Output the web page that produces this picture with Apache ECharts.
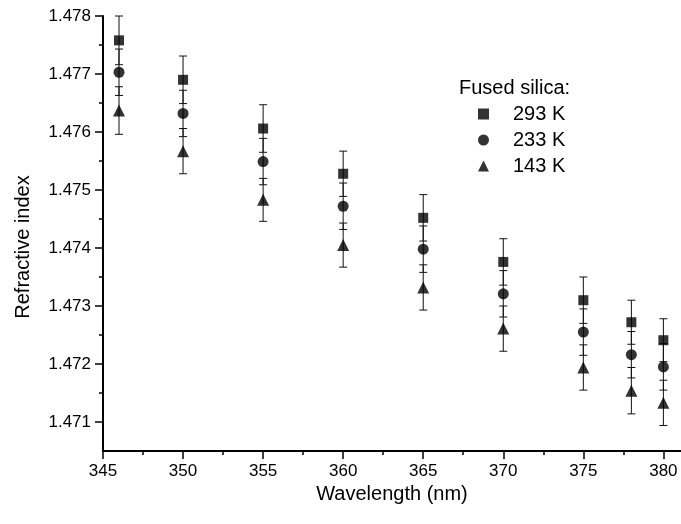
<!DOCTYPE html>
<html>
<head>
<meta charset="utf-8">
<script src="https://cdn.jsdelivr.net/npm/echarts@6/dist/echarts.min.js"></script>
<style>html,body{margin:0;padding:0;background:#fff}#c{width:681px;height:524px}</style>
</head>
<body>
<div id="c"></div>
<script>
var wavelengths = [346, 350, 355, 360, 365, 370, 375, 378, 380];
var n293 = [1.47758, 1.47690, 1.47606, 1.47528, 1.47452, 1.47376, 1.47310, 1.47272, 1.47241];
var n233 = [1.47703, 1.47632, 1.47549, 1.47472, 1.47398, 1.47321, 1.47255, 1.47216, 1.47195];
var n143 = [1.47637, 1.47567, 1.47483, 1.47405, 1.47332, 1.47261, 1.47194, 1.47154, 1.47133];
var err293 = [0.00042, 0.00041, 0.00041, 0.00039, 0.00040, 0.00040, 0.00040, 0.00038, 0.00037];
var err233 = [0.00040, 0.00040, 0.00040, 0.00040, 0.00040, 0.00040, 0.00040, 0.00040, 0.00040];
var err143 = [0.00041, 0.00039, 0.00037, 0.00038, 0.00039, 0.00039, 0.00039, 0.00040, 0.00039];
var seriesNames = ['293 K', '233 K', '143 K'];
var xMajor = [345, 350, 355, 360, 365, 370, 375, 380];
var xMinor = [347.5, 352.5, 357.5, 362.5, 367.5, 372.5, 377.5];
var yMajor = [1.471, 1.472, 1.473, 1.474, 1.475, 1.476, 1.477, 1.478];
var yMinor = [1.4715, 1.4725, 1.4735, 1.4745, 1.4755, 1.4765, 1.4775];

var FONT = '"Liberation Sans", Arial, sans-serif';
var chart = echarts.init(document.getElementById('c'));

function pts(vals, errs) {
  return wavelengths.map(function (w, i) { return [w, vals[i], errs[i]]; });
}
function errSeries(vals, errs) {
  return {
    type: 'custom',
    silent: true,
    z: 1,
    data: pts(vals, errs),
    renderItem: function (params, api) {
      var x = api.value(0), y = api.value(1), e = api.value(2);
      var top = api.coord([x, y + e]);
      var bot = api.coord([x, y - e]);
      var hw = 4;
      var st = { stroke: '#111', lineWidth: 1 };
      return {
        type: 'group',
        children: [
          { type: 'line', shape: { x1: top[0], y1: top[1], x2: bot[0], y2: bot[1] }, style: st },
          { type: 'line', shape: { x1: top[0] - hw, y1: top[1], x2: top[0] + hw, y2: top[1] }, style: st },
          { type: 'line', shape: { x1: bot[0] - hw, y1: bot[1], x2: bot[0] + hw, y2: bot[1] }, style: st }
        ]
      };
    }
  };
}
function scat(name, vals, sym, size) {
  return {
    name: name, type: 'scatter', symbol: sym, symbolSize: size, z: 3,
    itemStyle: { color: '#000' },
    data: wavelengths.map(function (w, i) { return [w, vals[i]]; })
  };
}

var xBase = {
  type: 'value', min: 345, max: 381.1, position: 'bottom', gridIndex: 0,
  splitLine: { show: false }
};
var yBase = {
  type: 'value', min: 1.4705, max: 1.478, position: 'left', gridIndex: 0,
  splitLine: { show: false }
};

chart.setOption({
  animation: false,
  backgroundColor: '#fff',
  grid: { left: 103, right: 0, top: 16, bottom: 73, containLabel: false },
  xAxis: [
    Object.assign({}, xBase, {
      name: 'Wavelength (nm)', nameLocation: 'middle', nameGap: 33,
      nameTextStyle: { fontFamily: FONT, fontSize: 20, color: '#000' },
      axisLine: { lineStyle: { color: '#000', width: 2 } },
      axisTick: { show: true, inside: false, length: 8, customValues: xMajor, lineStyle: { color: '#000', width: 1.5 } },
      axisLabel: { customValues: xMajor, margin: 12, fontFamily: FONT, fontSize: 17, color: '#000' }
    }),
    Object.assign({}, xBase, {
      axisLine: { show: false },
      axisTick: { show: true, inside: false, length: 4, customValues: xMinor, lineStyle: { color: '#000', width: 1.5 } },
      axisLabel: { show: false }
    })
  ],
  yAxis: [
    Object.assign({}, yBase, {
      name: 'Refractive index', nameLocation: 'middle', nameGap: 70,
      nameTextStyle: { fontFamily: FONT, fontSize: 20, color: '#000', padding: [0, 27, 0, 0] },
      axisLine: { lineStyle: { color: '#000', width: 2 } },
      axisTick: { show: true, inside: false, length: 8, customValues: yMajor, lineStyle: { color: '#000', width: 1.5 } },
      axisLabel: {
        customValues: yMajor, margin: 12, fontFamily: FONT, fontSize: 17, color: '#000',
        formatter: function (v) { return v.toFixed(3); }
      }
    }),
    Object.assign({}, yBase, {
      axisLine: { show: false },
      axisTick: { show: true, inside: false, length: 4, customValues: yMinor, lineStyle: { color: '#000', width: 1.5 } },
      axisLabel: { show: false }
    })
  ],
  legend: {
    orient: 'vertical', left: 473, top: 99, itemGap: 6,
    itemWidth: 11, itemHeight: 11,
    data: [
      { name: seriesNames[0], icon: 'rect' },
      { name: seriesNames[1], icon: 'circle' },
      { name: seriesNames[2], icon: 'triangle' }
    ],
    textStyle: { fontFamily: FONT, fontSize: 20, color: '#000', padding: [0, 0, 0, 19] }
  },
  graphic: [
    { type: 'text', left: 459, top: 78, style: { text: 'Fused silica:', font: '20px ' + FONT, fill: '#000' } }
  ],
  series: [
    errSeries(n293, err293),
    errSeries(n233, err233),
    errSeries(n143, err143),
    scat(seriesNames[0], n293, 'rect', 10),
    scat(seriesNames[1], n233, 'circle', 11),
    scat(seriesNames[2], n143, 'triangle', 12)
  ]
});
</script>
</body>
</html>
